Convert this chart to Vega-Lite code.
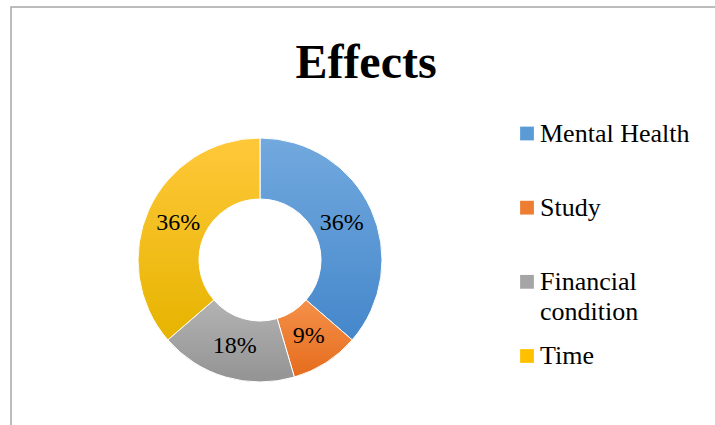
{
  "$schema": "https://vega.github.io/schema/vega-lite/v6.json",
  "width": 720,
  "height": 430,
  "padding": {"left": 11, "top": 7, "right": 0, "bottom": 0},
  "autosize": {"type": "none"},
  "background": "white",
  "config": {"view": {"stroke": "#a6a6a6", "strokeWidth": 1.5}},
  "title": {
    "text": "Effects",
    "font": "Liberation Serif",
    "fontSize": 48,
    "fontWeight": "bold",
    "color": "black",
    "anchor": "middle",
    "baseline": "alphabetic",
    "offset": 0,
    "dy": 119,
    "dx": -5
  },
  "data": {
    "values": [
      {"category": "Mental Health", "value": 4},
      {"category": "Study", "value": 1},
      {"category": "Financial condition", "value": 2},
      {"category": "Time", "value": 4}
    ]
  },
  "transform": [
    {"stack": "value", "groupby": [], "as": ["v0", "v1"]},
    {"joinaggregate": [{"op": "sum", "field": "value", "as": "total"}]},
    {"calculate": "datum.value / datum.total", "as": "pct"},
    {"calculate": "(datum.v0 + datum.v1) / 2", "as": "mid"},
    {"calculate": "datum.category === 'Financial condition' ? ['Financial', 'condition'] : datum.category", "as": "lines"}
  ],
  "layer": [
    {
      "transform": [{"filter": "datum.category === 'Mental Health'"}],
      "mark": {"type": "arc", "outerRadius": 122, "innerRadius": 61, "stroke": "white", "strokeWidth": 1,
        "fill": {"gradient": "linear", "x1": 0, "y1": 0, "x2": 0, "y2": 1,
          "stops": [{"offset": 0, "color": "#72a9de"}, {"offset": 1, "color": "#4587cb"}]}},
      "encoding": {
        "theta": {"field": "v0", "type": "quantitative", "scale": {"domain": [0, 11]}},
        "theta2": {"field": "v1"},
        "x": {"value": 249}, "y": {"value": 253}
      }
    },
    {
      "transform": [{"filter": "datum.category === 'Study'"}],
      "mark": {"type": "arc", "outerRadius": 122, "innerRadius": 61, "stroke": "white", "strokeWidth": 1,
        "fill": {"gradient": "linear", "x1": 0, "y1": 0, "x2": 0, "y2": 1,
          "stops": [{"offset": 0, "color": "#f5904a"}, {"offset": 1, "color": "#e56c1c"}]}},
      "encoding": {
        "theta": {"field": "v0", "type": "quantitative", "scale": {"domain": [0, 11]}},
        "theta2": {"field": "v1"},
        "x": {"value": 249}, "y": {"value": 253}
      }
    },
    {
      "transform": [{"filter": "datum.category === 'Financial condition'"}],
      "mark": {"type": "arc", "outerRadius": 122, "innerRadius": 61, "stroke": "white", "strokeWidth": 1,
        "fill": {"gradient": "linear", "x1": 0, "y1": 0, "x2": 0, "y2": 1,
          "stops": [{"offset": 0, "color": "#b3b3b3"}, {"offset": 1, "color": "#939393"}]}},
      "encoding": {
        "theta": {"field": "v0", "type": "quantitative", "scale": {"domain": [0, 11]}},
        "theta2": {"field": "v1"},
        "x": {"value": 249}, "y": {"value": 253}
      }
    },
    {
      "transform": [{"filter": "datum.category === 'Time'"}],
      "mark": {"type": "arc", "outerRadius": 122, "innerRadius": 61, "stroke": "white", "strokeWidth": 1,
        "fill": {"gradient": "linear", "x1": 0, "y1": 0, "x2": 0, "y2": 1,
          "stops": [{"offset": 0, "color": "#ffc83a"}, {"offset": 1, "color": "#e6b400"}]}},
      "encoding": {
        "theta": {"field": "v0", "type": "quantitative", "scale": {"domain": [0, 11]}},
        "theta2": {"field": "v1"},
        "x": {"value": 249}, "y": {"value": 253}
      }
    },
    {
      "mark": {"type": "text", "radius": 90, "font": "Liberation Serif", "fontSize": 24, "color": "black", "align": "center", "baseline": "middle"},
      "encoding": {
        "theta": {"field": "mid", "type": "quantitative", "scale": {"domain": [0, 11]}},
        "text": {"field": "pct", "type": "quantitative", "format": ".0%"},
        "x": {"value": 249}, "y": {"value": 253}
      }
    },
    {
      "mark": {"type": "square", "size": 190, "filled": true, "opacity": 1},
      "encoding": {
        "y": {"field": "category", "type": "nominal", "axis": null,
          "scale": {"type": "point", "padding": 0, "domain": ["Mental Health", "Study", "Financial condition", "Time"], "range": [126.5, 349]}},
        "x": {"value": 516},
        "color": {"field": "category", "type": "nominal", "legend": null,
          "scale": {"domain": ["Mental Health", "Study", "Financial condition", "Time"], "range": ["#5b9bd5", "#ed7d31", "#a5a5a5", "#ffc000"]}}
      }
    },
    {
      "mark": {"type": "text", "align": "left", "baseline": "middle", "font": "Liberation Serif", "fontSize": 26, "lineHeight": 30, "color": "black"},
      "encoding": {
        "y": {"field": "category", "type": "nominal", "axis": null},
        "x": {"value": 529},
        "text": {"field": "lines", "type": "nominal"}
      }
    }
  ]
}
